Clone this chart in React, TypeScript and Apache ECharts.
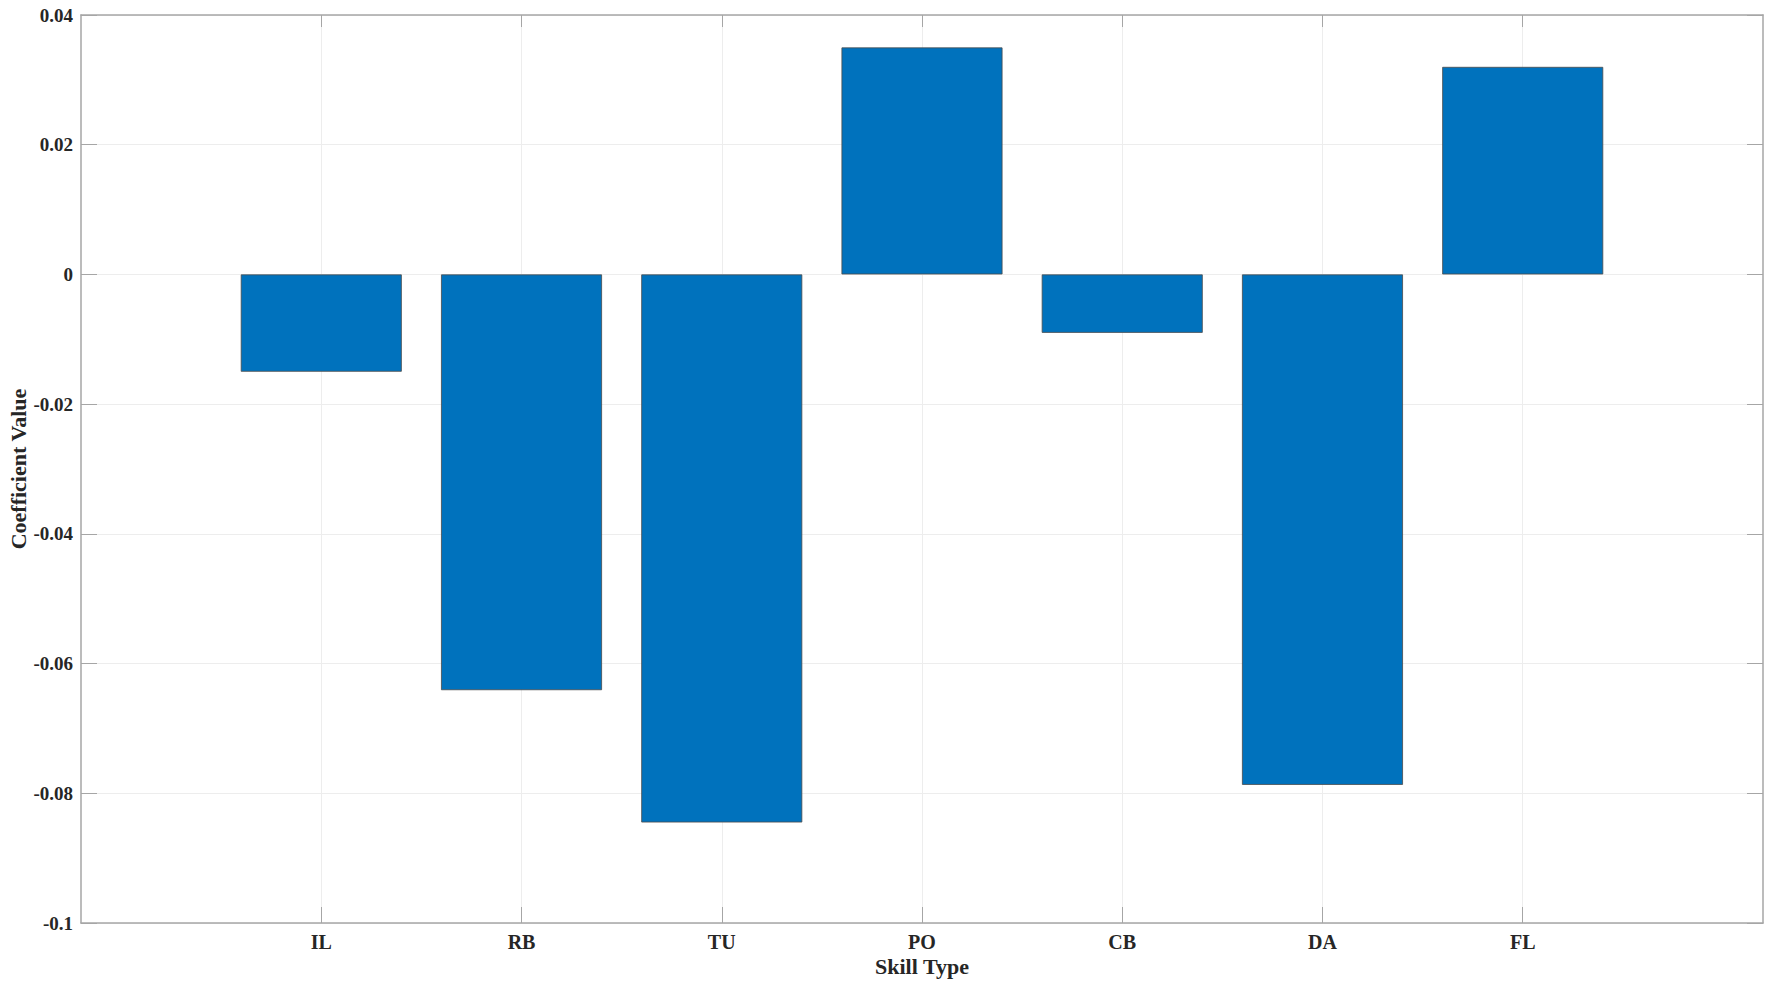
import React, { useEffect, useRef } from "react";
import * as echarts from "echarts";

const categories = ["IL", "RB", "TU", "PO", "CB", "DA", "FL"];
const coefficients = [-0.015, -0.0641, -0.0845, 0.035, -0.009, -0.0787, 0.032];
const yTicks = [-0.1, -0.08, -0.06, -0.04, -0.02, 0, 0.02, 0.04];
const xPositions = categories.map((_, i) => i + 1);

const FONT = "'Liberation Serif', 'Times New Roman', serif";
const AXIS_COLOR = "#a6a6a6";
const GRID_COLOR = "#ededed";
const TEXT_COLOR = "#262626";

export default function App() {
  const ref = useRef<HTMLDivElement>(null);

  useEffect(() => {
    document.body.style.margin = "0";
    if (!ref.current) return;
    const chart = echarts.init(ref.current, null, { renderer: "svg" });
    const fmtY = (v: number) => {
      const r = parseFloat(v.toFixed(3));
      return String(r === 0 ? 0 : r);
    };
    const data = categories.map((c, i) => [xPositions[i], coefficients[i]]);
    const xMin = -0.2;
    const xMax = 8.2;
    const yMin = yTicks[0];
    const yMax = yTicks[yTicks.length - 1];
    const tickInside = { show: true, inside: true, length: 16, lineStyle: { color: AXIS_COLOR, width: 1 } };
    chart.setOption({
      animation: false,
      backgroundColor: "#ffffff",
      grid: { left: 81, right: 9, top: 15, bottom: 66, containLabel: false, outerBoundsMode: "none" },
      xAxis: [
        {
          type: "value",
          min: xMin,
          max: xMax,
          position: "bottom",
          name: "Skill Type",
          nameLocation: "middle",
          nameGap: 32,
          nameMoveOverlap: false,
          nameTextStyle: { fontFamily: FONT, fontWeight: "bold", fontSize: 22, color: TEXT_COLOR },
          axisLine: { show: true, onZero: false, lineStyle: { color: AXIS_COLOR, width: 1.5 } },
          axisTick: { ...tickInside, customValues: xPositions },
          axisLabel: {
            customValues: xPositions,
            margin: 9,
            fontFamily: FONT,
            fontWeight: "bold",
            fontSize: 20,
            color: TEXT_COLOR,
            formatter: (v: number) => categories[Math.round(v) - 1] ?? "",
          },
          splitLine: { show: true, lineStyle: { color: GRID_COLOR, width: 1 } },
        },
        {
          type: "value",
          min: xMin,
          max: xMax,
          position: "top",
          axisLine: { show: true, onZero: false, lineStyle: { color: AXIS_COLOR, width: 1.5 } },
          axisTick: { ...tickInside, length: 12, customValues: xPositions },
          axisLabel: { show: false, customValues: xPositions },
          splitLine: { show: false },
        },
      ],
      yAxis: [
        {
          type: "value",
          min: yMin,
          max: yMax,
          interval: 0.02,
          position: "left",
          name: "Coefficient Value",
          nameLocation: "middle",
          nameGap: 52,
          nameMoveOverlap: false,
          nameTextStyle: { fontFamily: FONT, fontWeight: "bold", fontSize: 22, color: TEXT_COLOR },
          axisLine: { show: true, onZero: false, lineStyle: { color: AXIS_COLOR, width: 1.5 } },
          axisTick: tickInside,
          axisLabel: {
            margin: 8,
            fontFamily: FONT,
            fontWeight: "bold",
            fontSize: 19,
            color: TEXT_COLOR,
            formatter: fmtY,
          },
          splitLine: { show: true, lineStyle: { color: GRID_COLOR, width: 1 } },
        },
        {
          type: "value",
          min: yMin,
          max: yMax,
          interval: 0.02,
          position: "right",
          axisLine: { show: true, onZero: false, lineStyle: { color: AXIS_COLOR, width: 1.5 } },
          axisTick: tickInside,
          axisLabel: { show: false },
          splitLine: { show: false },
        },
      ],
      series: [
        {
          type: "bar",
          xAxisIndex: 0,
          yAxisIndex: 0,
          data,
          barWidth: 161,
          itemStyle: { color: "#0072BD", borderColor: "#4a4a4a", borderWidth: 0.8 },
        },
      ],
    });
    return () => chart.dispose();
  }, []);

  return <div ref={ref} style={{ width: 1772, height: 989 }} />;
}
